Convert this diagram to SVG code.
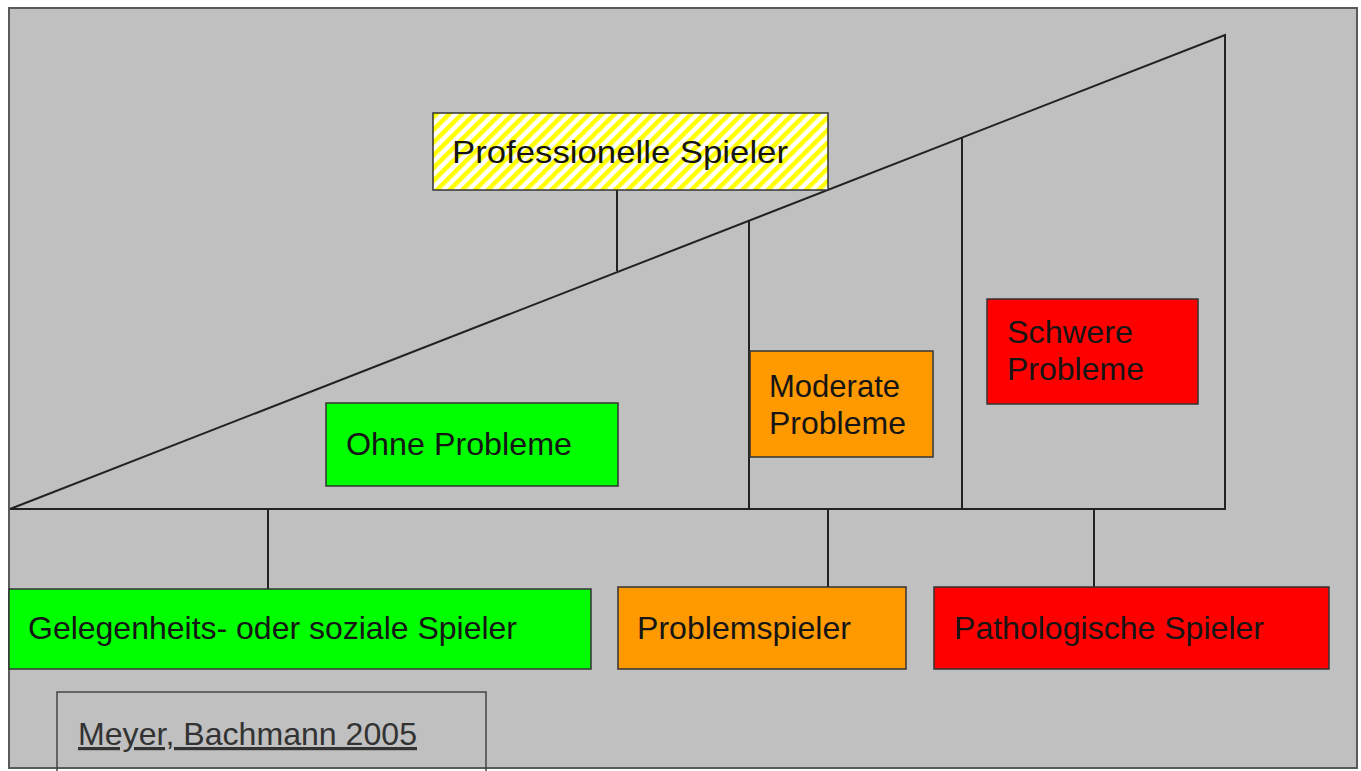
<svg xmlns="http://www.w3.org/2000/svg" width="1361" height="771" viewBox="0 0 1361 771">
<defs>
<pattern id="stripes" patternUnits="userSpaceOnUse" width="9" height="9" patternTransform="rotate(45)">
<rect x="0" y="0" width="9" height="9" fill="#ffffff"/>
<rect x="0" y="0" width="4.5" height="9" fill="#ffff00"/>
</pattern>
<style>
.box{stroke:#333;stroke-width:1.5}
.t{font-family:"Liberation Sans",Arial,sans-serif;font-size:32px;fill:#151515}
.ln{stroke:#222;stroke-width:2;fill:none}
</style>
</defs>
<rect x="0" y="0" width="1361" height="771" fill="#ffffff"/>
<rect id="frame" x="9" y="8" width="1348" height="760" fill="#c0c0c0" stroke="#5a5a5a" stroke-width="2"/>
<g id="connectors">
<polygon class="ln" points="10,509 1225,35 1225,509"/>
<line class="ln" x1="749" y1="220.5" x2="749" y2="509"/>
<line class="ln" x1="962" y1="137.5" x2="962" y2="509"/>
<line class="ln" x1="617" y1="190" x2="617" y2="271"/>
<line class="ln" x1="268" y1="509" x2="268" y2="589"/>
<line class="ln" x1="828" y1="509" x2="828" y2="587"/>
<line class="ln" x1="1094" y1="509" x2="1094" y2="587"/>
</g>
<g id="professionelle">
<rect class="box" x="433" y="113" width="395" height="77" fill="url(#stripes)"/>
<text class="t" x="452" y="163" textLength="336" lengthAdjust="spacingAndGlyphs">Professionelle Spieler</text>
</g>
<g id="ohne">
<rect class="box" x="326" y="403" width="292" height="83" fill="#00ff00"/>
<text class="t" x="346" y="455" textLength="226" lengthAdjust="spacingAndGlyphs">Ohne Probleme</text>
</g>
<g id="moderate">
<rect class="box" x="750" y="351" width="183" height="106" fill="#ff9900"/>
<text class="t" x="769" y="397" textLength="131" lengthAdjust="spacingAndGlyphs">Moderate</text>
<text class="t" x="769" y="434" textLength="137" lengthAdjust="spacingAndGlyphs">Probleme</text>
</g>
<g id="schwere">
<rect class="box" x="987" y="299" width="211" height="105" fill="#ff0000"/>
<text class="t" x="1007" y="343" textLength="126" lengthAdjust="spacingAndGlyphs">Schwere</text>
<text class="t" x="1007" y="380" textLength="137" lengthAdjust="spacingAndGlyphs">Probleme</text>
</g>
<g id="gelegenheits">
<rect class="box" x="9" y="589" width="582" height="80" fill="#00ff00"/>
<text class="t" x="28" y="639" textLength="489" lengthAdjust="spacingAndGlyphs">Gelegenheits- oder soziale Spieler</text>
</g>
<g id="problemspieler">
<rect class="box" x="618" y="587" width="288" height="82" fill="#ff9900"/>
<text class="t" x="637" y="639" textLength="214" lengthAdjust="spacingAndGlyphs">Problemspieler</text>
</g>
<g id="pathologische">
<rect class="box" x="934" y="587" width="395" height="82" fill="#ff0000"/>
<text class="t" x="954" y="639" textLength="310" lengthAdjust="spacingAndGlyphs">Pathologische Spieler</text>
</g>
<g id="meyer">
<rect x="57" y="692" width="429" height="100" fill="none" stroke="#444" stroke-width="1.5"/>
<text class="t" x="78" y="745" textLength="339" lengthAdjust="spacingAndGlyphs" style="fill:#333" text-decoration="underline">Meyer, Bachmann 2005</text>
</g>
</svg>
